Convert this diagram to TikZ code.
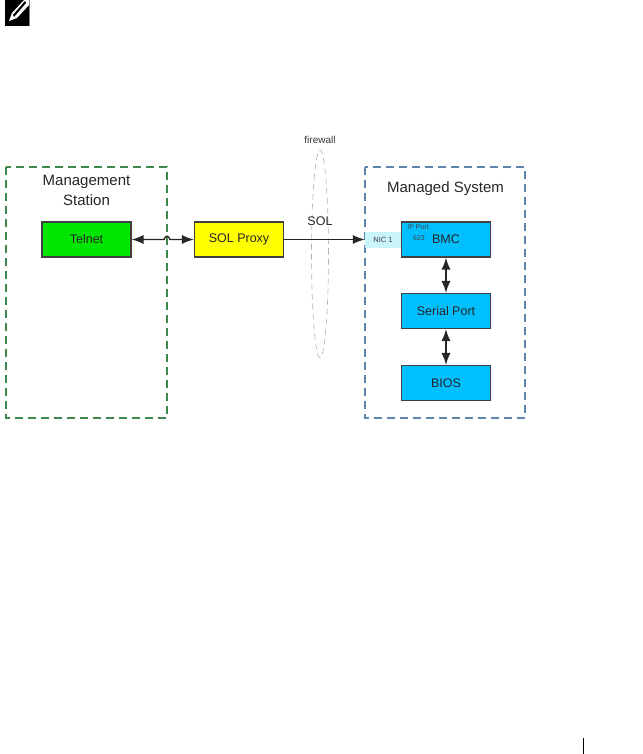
\documentclass[tikz,border=0pt]{standalone}
\usepackage{fontspec}
\setmainfont{Liberation Sans}
\usetikzlibrary{arrows.meta,shapes.geometric}

\definecolor{boxgreen}{HTML}{00E600}
\definecolor{boxyellow}{HTML}{FFFF00}
\definecolor{boxblue}{HTML}{00BFFF}
\definecolor{nicblue}{HTML}{C8F4FA}
\definecolor{dashgreen}{HTML}{3E8A4E}
\definecolor{dashblue}{HTML}{5F86AE}

\tikzset{
  unit/.style={draw=black!75,line width=1.1pt,minimum width=89pt,minimum height=35pt,inner sep=0pt,font=\fontsize{12.5}{14}\selectfont,text=black!85},
  zone/.style={line width=1.2pt,dash pattern=on 8pt off 5pt},
  link/.style={line width=1.3pt,draw=black!85,{Latex[length=12pt,width=9pt]}-{Latex[length=12pt,width=9pt]}}
}

\begin{document}
\begin{tikzpicture}[x=1pt,y=-1pt]
\useasboundingbox (0,0) rectangle (642,754);

% note icon
\fill[black] (5,0) rectangle (29,26);
\fill[white] (9,21) -- (12,13) -- (24,0) -- (29,0) -- (29,5) -- (17,18) -- cycle;
\fill[black] (13,15) -- (25,1) -- (26,3) -- (14,17) -- cycle;
\draw[gray,line width=.6pt] (29.3,0) -- (29.3,26);

% zones
\draw[zone,dashgreen] (6,167) rectangle (167,418);
\draw[zone,dashblue] (365,167) rectangle (525,418);

\node at (86.5,182) {\fontsize{15}{18}\selectfont\color{black!85}Management};
\node at (86.5,200) {\fontsize{15}{18}\selectfont\color{black!85}Station};
\node at (445.5,189) {\fontsize{15}{18}\selectfont\color{black!85}Managed System};

% firewall
\node[draw=black!30,ellipse,dash pattern=on 6pt off 4pt,line width=.6pt,minimum width=17pt,minimum height=208pt,inner sep=0pt] (fw) at (320,254) {};
\node[font=\fontsize{10}{12}\selectfont,text=black!80] (fwlabel) at (320,140) {firewall};
\node[font=\fontsize{12.5}{14}\selectfont,text=black!85] (sollabel) at (320,221) {SOL};

% units
\node[unit,fill=boxgreen] (telnet) at (86.5,239.5) {Telnet};
\node[unit,fill=boxyellow] (proxy) at (239,239.5) {SOL Proxy};
\node[draw=none,fill=nicblue,minimum width=36pt,minimum height=16pt,inner sep=0pt,font=\fontsize{7.5}{9}\selectfont,text=black!75] (nic) at (383,239.5) {NIC 1};
\node[unit,fill=boxblue] (bmc) at (446,239.5) {BMC};
\node[unit,fill=boxblue] (serial) at (446,311) {Serial Port};
\node[unit,fill=boxblue] (bios) at (446,383) {BIOS};
\node[font=\fontsize{7}{9}\selectfont,text=black!75] (ipport) at (418,227) {IP Port};
\node[font=\fontsize{7}{9}\selectfont,text=black!75] (ipnum) at (419,238) {623};

% connectors
\coordinate (hopa) at (164,239.5);
\coordinate (hopb) at (170,239.5);
\draw[link] (telnet) -- (hopa) .. controls (166,235) and (168,235) .. (hopb) -- (proxy);
\draw[line width=1.3pt,draw=black!85,-{Latex[length=12pt,width=9pt]}] (proxy) -- (nic);
\draw[link] (bmc) -- (serial);
\draw[link] (serial) -- (bios);

% page rule
\coordinate (rulea) at (583.5,738);
\coordinate (ruleb) at (583.5,754);
\draw[line width=.8pt] (rulea) -- (ruleb);

\end{tikzpicture}
\end{document}
